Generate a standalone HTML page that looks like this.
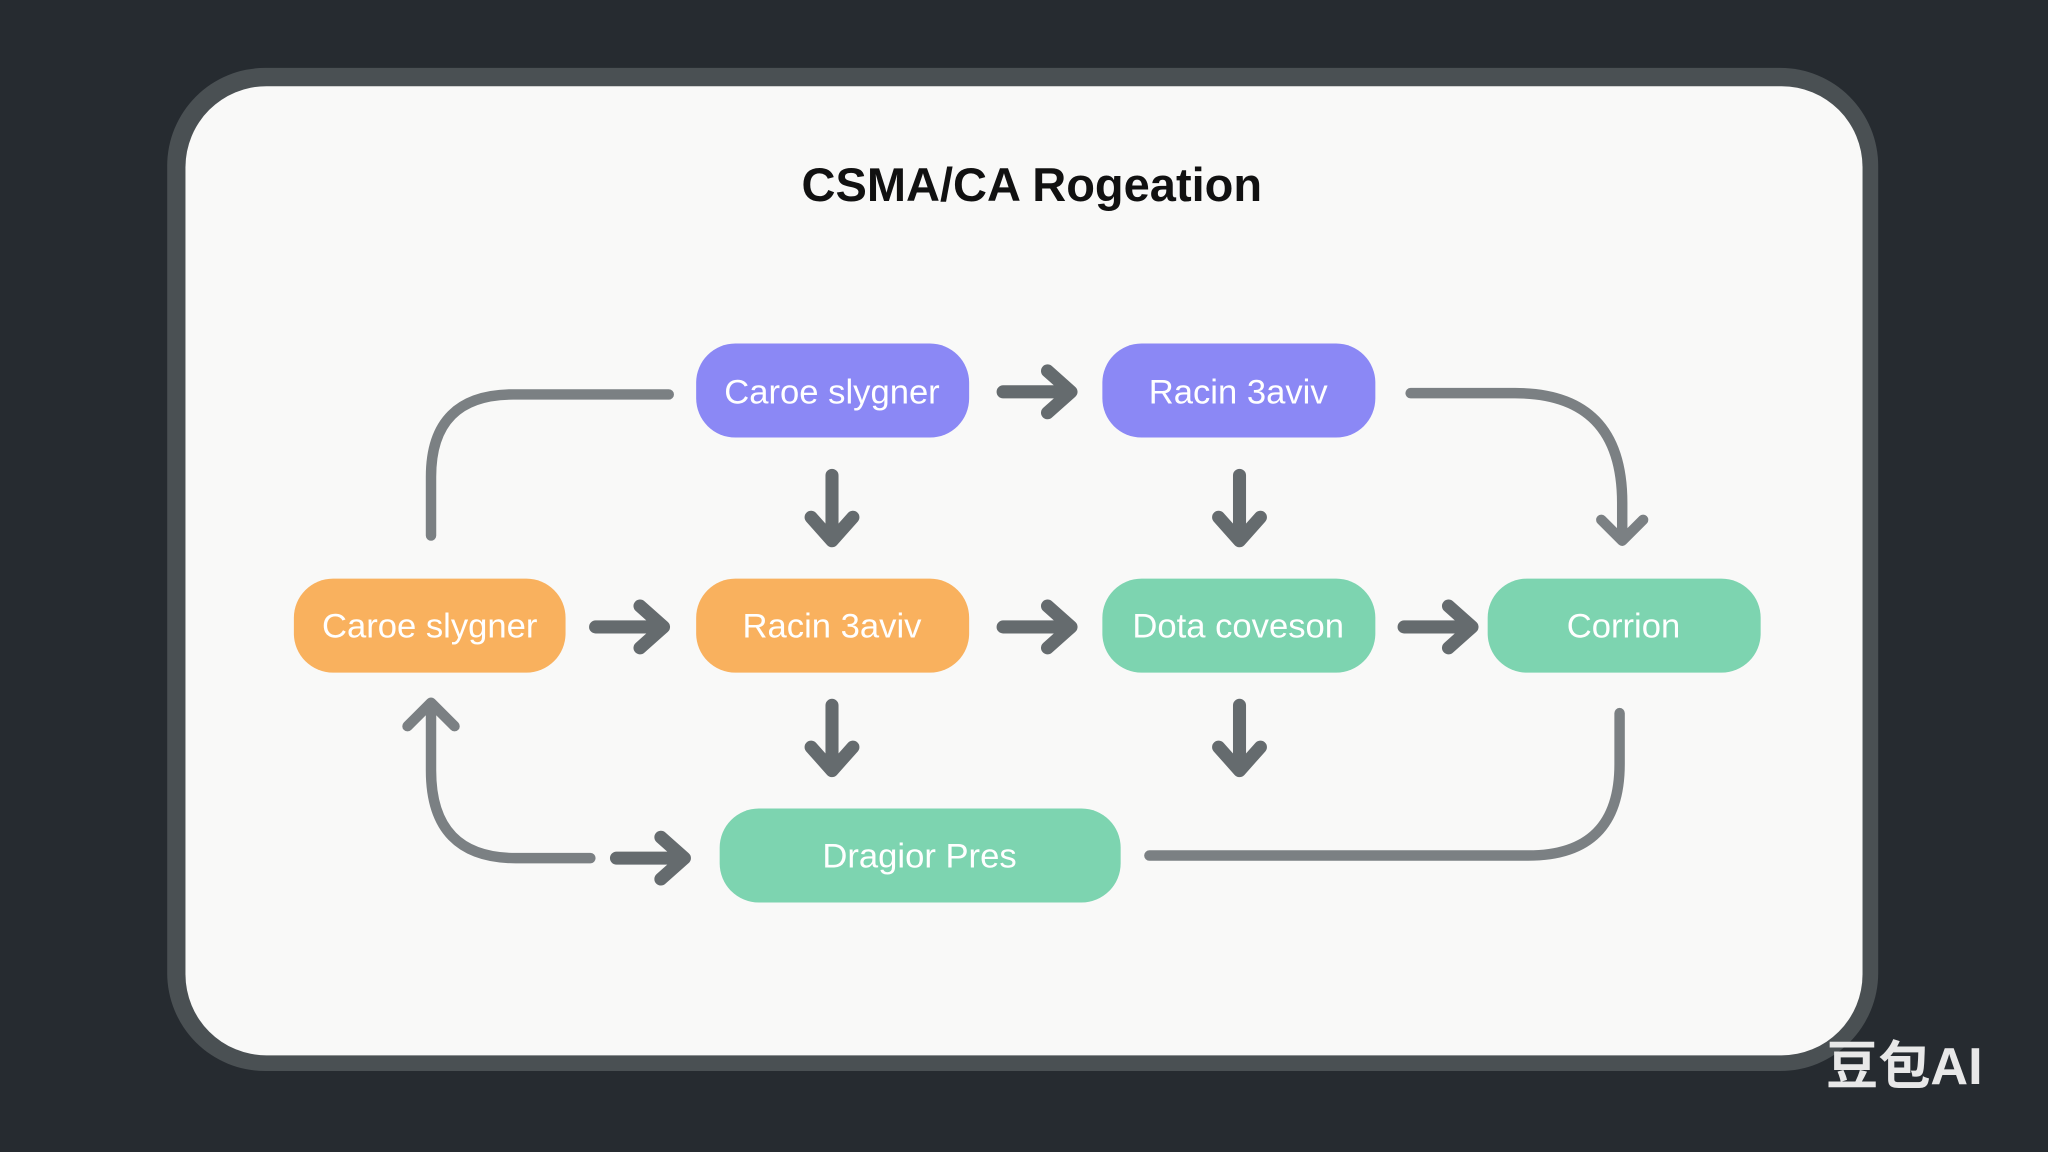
<!DOCTYPE html>
<html><head><meta charset="utf-8"><style>
html,body{margin:0;padding:0;background:#262b30;}
svg{display:block;}
</style></head><body>
<svg width="2048" height="1152" viewBox="0 0 1568 882" preserveAspectRatio="none" xmlns="http://www.w3.org/2000/svg">
<rect x="0" y="0" width="1568" height="882" fill="#262b30"/>
<rect x="128" y="52" width="1310" height="768" rx="75" fill="#4a5053"/>
<rect x="142" y="66" width="1284" height="742" rx="62" fill="#f9f9f8"/>
<text x="790" y="154" text-anchor="middle" font-family="Liberation Sans, sans-serif" font-weight="bold" font-size="36" fill="#111">CSMA/CA Rogeation</text>
<g font-family="Liberation Sans, sans-serif" font-size="26.5" font-weight="500" fill="#fff" text-anchor="middle">
<rect x="533" y="263" width="209" height="72" rx="30" fill="#8b88f5"/><text x="637" y="309">Caroe slygner</text>
<rect x="844" y="263" width="209" height="72" rx="30" fill="#8b88f5"/><text x="948" y="309">Racin 3aviv</text>
<rect x="225" y="443" width="208" height="72" rx="30" fill="#f9b15e"/><text x="329" y="488">Caroe slygner</text>
<rect x="533" y="443" width="209" height="72" rx="30" fill="#f9b15e"/><text x="637" y="488">Racin 3aviv</text>
<rect x="844" y="443" width="209" height="72" rx="30" fill="#7dd4b0"/><text x="948" y="488">Dota coveson</text>
<rect x="1139" y="443" width="209" height="72" rx="30" fill="#7dd4b0"/><text x="1243" y="488">Corrion</text>
<rect x="551" y="619" width="307" height="72" rx="30" fill="#7dd4b0"/><text x="704" y="664">Dragior Pres</text>
</g>
<g fill="none" stroke="#656b6e" stroke-width="10" stroke-linecap="round" stroke-linejoin="round">
<path d="M768 300H818M802 284L820 300L802 316"/>
<path d="M456 480H506M490 464L508 480L490 496"/>
<path d="M768 480H818M802 464L820 480L802 496"/>
<path d="M1075 480H1125M1109 464L1127 480L1109 496"/>
<path d="M472 657H522M506 641L524 657L506 673"/>
<path d="M637 364V412M621 396L637 414L653 396"/>
<path d="M949 364V412M933 396L949 414L965 396"/>
<path d="M637 540V588M621 572L637 590L653 572"/>
<path d="M949 540V588M933 572L949 590L965 572"/>
</g>
<g fill="none" stroke="#7b8083" stroke-width="8" stroke-linecap="round" stroke-linejoin="round">
<path d="M330 410V365Q330 302 393 302H512"/>
<path d="M1080 301H1160Q1242 301 1242 385V412M1226 398L1242 414L1258 398"/>
<path d="M452 657H395Q330 657 330 590V542M312 556L330 538L348 556"/>
<path d="M880 655H1170Q1240 655 1240 585V546"/>
</g>
<text x="1458" y="830" text-anchor="middle" font-family="Liberation Sans, Noto Sans CJK SC, sans-serif" font-weight="bold" font-size="40" fill="#e8e8e8">豆包AI</text>
</svg>
</body></html>
